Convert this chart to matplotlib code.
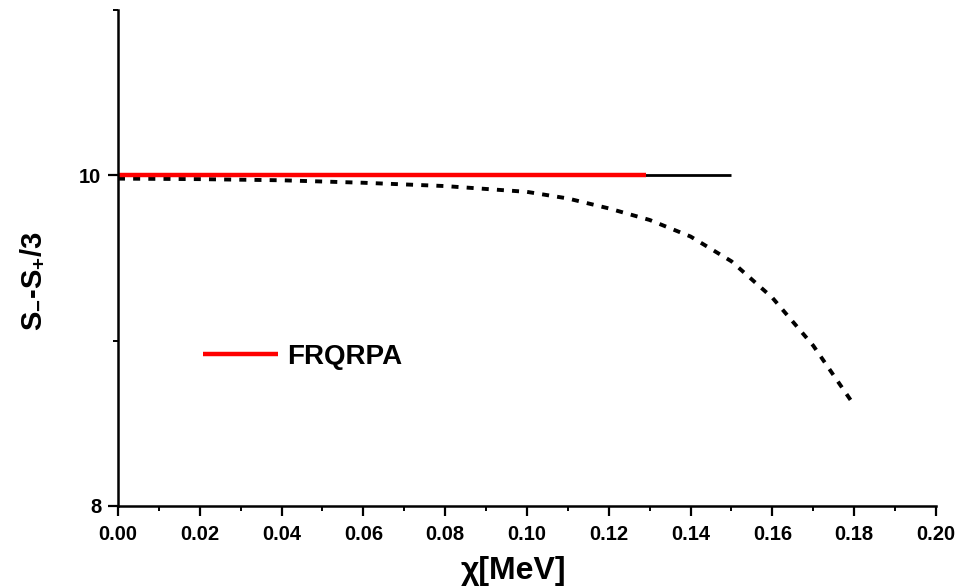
import numpy as np
import matplotlib
matplotlib.use("Agg")
import matplotlib.pyplot as plt
from matplotlib.ticker import MultipleLocator

plt.rcParams['font.family'] = ['Liberation Sans', 'DejaVu Sans']
plt.rcParams['font.weight'] = 'bold'
plt.rcParams['mathtext.fontset'] = 'custom'
plt.rcParams['mathtext.rm'] = 'Liberation Sans:bold'
plt.rcParams['mathtext.it'] = 'Liberation Sans:bold'
plt.rcParams['mathtext.bf'] = 'Liberation Sans:bold'

# data
chi_frqrpa = [0.0, 0.129]
s_frqrpa = [10.0, 10.0]

chi_exact = [0.0, 0.15]
s_exact = [10.0, 10.0]

chi_rpa = [0.0, 0.02, 0.04, 0.06, 0.08, 0.10, 0.11, 0.12, 0.13, 0.14, 0.15, 0.16, 0.17, 0.18]
s_rpa = [9.98, 9.977, 9.97, 9.955, 9.935, 9.90, 9.86, 9.80, 9.73, 9.63, 9.48, 9.26, 8.97, 8.61]

fig = plt.figure(figsize=(9.6, 5.88), dpi=100)
ax = fig.add_axes([0.1229, 0.1395, 0.852, 0.8435])

ax.plot(chi_exact, s_exact, color='black', lw=2.0, solid_capstyle='butt')
ax.plot(chi_rpa, s_rpa, color='black', lw=2.8, ls=(0, (1.8, 2.1)))
ax.plot(chi_frqrpa, s_frqrpa, color='red', lw=3.2, solid_capstyle='butt', label='FRQRPA')

ax.set_xlim(0.0, 0.20)
ax.set_ylim(8, 11)
ax.xaxis.set_major_locator(MultipleLocator(0.02))
ax.xaxis.set_minor_locator(MultipleLocator(0.01))
ax.yaxis.set_major_locator(MultipleLocator(2))
ax.yaxis.set_minor_locator(MultipleLocator(1))
ax.xaxis.set_major_formatter(plt.FormatStrFormatter('%.2f'))

for s in ['top', 'right']:
    ax.spines[s].set_visible(False)
for s in ['left', 'bottom']:
    ax.spines[s].set_linewidth(1.8)

ax.tick_params(which='major', direction='out', length=7, width=1.6, labelsize=14.5, pad=5)
ax.tick_params(axis='x', which='major', pad=7)
ax.tick_params(which='minor', direction='out', length=3.5, width=1.4)

ax.set_xlabel('χ[MeV]', fontsize=23, fontweight='bold')
ax.xaxis.set_label_coords((514 - 118) / 818, -0.1)
ax.set_ylabel(r'S$_{-}$-S$_{+}$/3', fontsize=21, fontweight='bold')
ax.yaxis.set_label_coords(-0.088, 0.454)

ax.legend(loc='center left', bbox_to_anchor=(0.104, 0.300), frameon=False,
          fontsize=20, handlelength=2.7, handletextpad=0.32, borderpad=0, borderaxespad=0)

fig.savefig('out.png', dpi=100)
